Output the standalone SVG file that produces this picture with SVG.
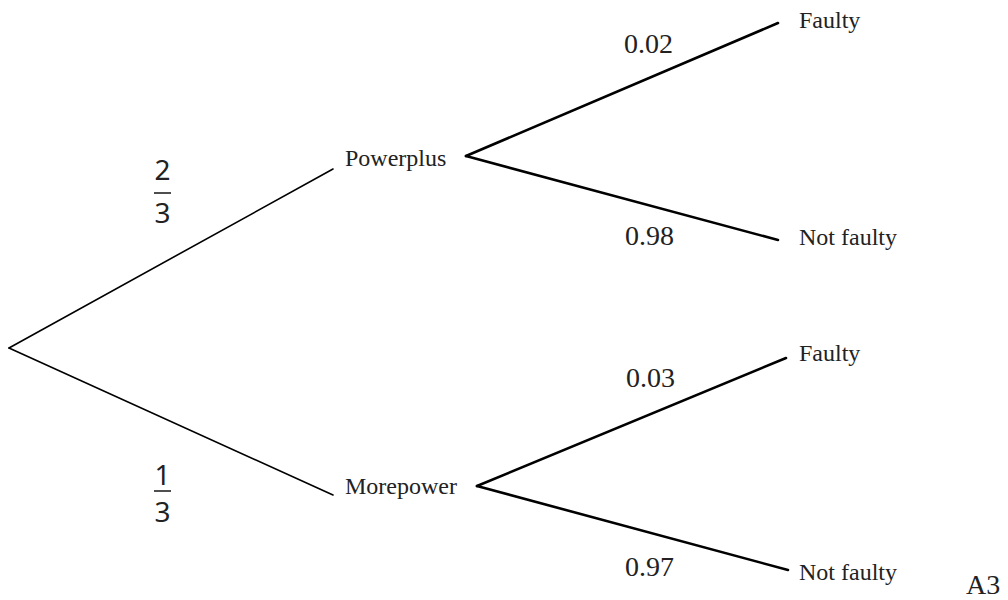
<svg xmlns="http://www.w3.org/2000/svg" width="1008" height="600" viewBox="0 0 1008 600">
<style>
.l1{stroke:#000;stroke-width:1.6;fill:none;stroke-linecap:round}
.l2{stroke:#000;stroke-width:2.6;fill:none;stroke-linecap:round}
.lab{font-family:"Liberation Serif",serif;font-size:24px;fill:#222}
.num{font-family:"Liberation Serif",serif;font-size:28px;fill:#222}
.frac{font-family:"Noto Sans",sans-serif;font-size:28px;fill:#222;text-anchor:middle}
.bar{stroke:#222;stroke-width:1.6}
</style>
<rect width="1008" height="600" fill="#fff"/>
<g id="connectors">
<line class="l1" x1="9" y1="348" x2="333" y2="169"/>
<line class="l1" x1="9" y1="348" x2="333" y2="495"/>
<line class="l2" x1="466" y1="156" x2="778" y2="23"/>
<line class="l2" x1="466" y1="156" x2="778" y2="240"/>
<line class="l2" x1="477" y1="486" x2="786" y2="358"/>
<line class="l2" x1="477" y1="486" x2="788" y2="570"/>
</g>
<g id="edge-labels">
<g id="p-powerplus">
<text class="frac" x="162.5" y="180">2</text>
<line class="bar" x1="154" y1="193" x2="171" y2="193"/>
<text class="frac" x="162.5" y="223">3</text>
</g>
<g id="p-morepower">
<text class="frac" x="162.5" y="485">1</text>
<line class="bar" x1="154" y1="491" x2="171" y2="491"/>
<text class="frac" x="162.5" y="522">3</text>
</g>
<text class="num" x="624" y="53">0.02</text>
<text class="num" x="625" y="245">0.98</text>
<text class="num" x="626" y="387">0.03</text>
<text class="num" x="625" y="576">0.97</text>
</g>
<g id="node-powerplus"><text class="lab" x="345" y="166">Powerplus</text></g>
<g id="node-morepower"><text class="lab" x="345" y="494">Morepower</text></g>
<g id="node-pp-faulty"><text class="lab" x="799" y="28">Faulty</text></g>
<g id="node-pp-notfaulty"><text class="lab" x="799" y="245">Not faulty</text></g>
<g id="node-mp-faulty"><text class="lab" x="799" y="361">Faulty</text></g>
<g id="node-mp-notfaulty"><text class="lab" x="799" y="580">Not faulty</text></g>
<text class="num" x="966" y="594">A3</text>
</svg>
